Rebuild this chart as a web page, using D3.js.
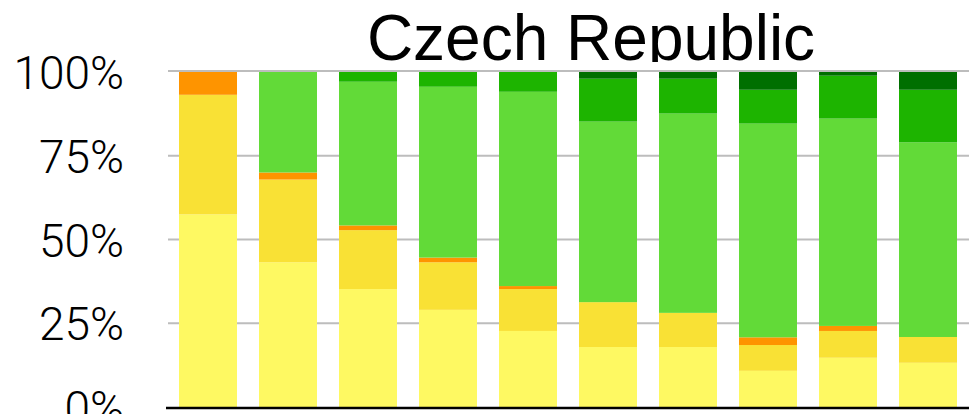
<!DOCTYPE html>
<html lang="en">
<head>
  <meta charset="UTF-8">
  <title>Czech Republic</title>
  <script src="https://d3js.org/d3.v7.min.js"></script>
  <style>
    body { margin: 0; background: #fff; }
    svg { display: block; }
    .title { font-family: "Liberation Sans", Arial, sans-serif; font-size: 64px; fill: #000; }
    .tick text { font-family: Roboto, "Liberation Sans", sans-serif; font-weight: 300; font-size: 46px; fill: #000; }
    .grid line { stroke: #bdbdbd; stroke-width: 2px; }
  </style>
</head>
<body>
  <svg></svg>
  <script>
    const width = 969, height = 414;

    // share of each band in every bar, bottom to top (percent)
    const categories = ["1", "2", "3", "4", "5", "6", "7", "8", "9", "10"];
    const lightYellow = [57.5, 43.2, 35.2, 29.0, 22.7, 17.9, 17.9, 10.8, 14.7, 13.2];
    const yellow      = [35.7, 24.7, 17.6, 14.2, 12.5, 13.4, 10.2, 7.7, 8.0, 7.7];
    const orange      = [6.8, 2.1, 1.4, 1.4, 0.9, 0, 0, 2.3, 1.5, 0];
    const lightGreen  = [0, 30.0, 42.9, 51.0, 58.0, 53.9, 59.5, 63.8, 61.9, 58.1];
    const green       = [0, 0, 2.9, 4.4, 5.9, 12.8, 10.4, 10.1, 12.8, 15.7];
    const darkGreen   = [0, 0, 0, 0, 0, 2.0, 2.0, 5.3, 1.1, 5.3];
    const yTicks = [0, 25, 50, 75, 100];

    const keys = ["lightYellow", "yellow", "orange", "lightGreen", "green", "darkGreen"];
    const colors = ["#fef962", "#f9e135", "#fe9400", "#62da38", "#1db400", "#006f00"];
    const seriesVals = [lightYellow, yellow, orange, lightGreen, green, darkGreen];

    const rows = categories.map((c, i) => {
      const r = { cat: c };
      keys.forEach((k, j) => r[k] = seriesVals[j][i]);
      return r;
    });

    const svg = d3.select("svg").attr("width", width).attr("height", height);

    const x = d3.scaleBand().domain(categories).range([168, 968])
      .paddingInner(0.275).paddingOuter(0.1375);
    const y = d3.scaleLinear().domain([0, 100]).range([407, 72]);

    // title, clipped at the top of the plot
    svg.append("clipPath").attr("id", "tclip")
      .append("rect").attr("x", 0).attr("y", 0).attr("width", width).attr("height", 62);
    svg.append("text").attr("class", "title")
      .attr("clip-path", "url(#tclip)")
      .attr("x", 591).attr("y", 60).attr("text-anchor", "middle")
      .text("Czech Republic");

    // gridlines
    svg.append("g").attr("class", "grid")
      .selectAll("line").data(yTicks.filter(d => d > 0)).join("line")
      .attr("x1", 168).attr("x2", width)
      .attr("y1", d => y(d) - (d === 100 ? 1 : 0)).attr("y2", d => y(d) - (d === 100 ? 1 : 0));

    // y axis labels
    const yAxis = d3.axisLeft(y).tickValues(yTicks).tickSize(0).tickPadding(0)
      .tickFormat(d => d + "%");
    const ga = svg.append("g").attr("transform", "translate(124,0)").call(yAxis);
    ga.select(".domain").remove();
    ga.selectAll(".tick text").attr("dy", "0.36em");

    // stacked bars
    const stacked = d3.stack().keys(keys)(rows);
    svg.append("g").selectAll("g").data(stacked).join("g")
      .attr("fill", (d, i) => colors[i])
      .selectAll("rect").data(d => d).join("rect")
      .attr("x", d => x(d.data.cat))
      .attr("width", x.bandwidth())
      .attr("y", d => y(d[1]))
      .attr("height", d => Math.max(0, y(d[0]) - y(d[1])));

    // baseline
    svg.append("line")
      .attr("x1", 166).attr("x2", width)
      .attr("y1", y(0) + 1).attr("y2", y(0) + 1)
      .attr("stroke", "#000").attr("stroke-width", 2.5);
  </script>
</body>
</html>
